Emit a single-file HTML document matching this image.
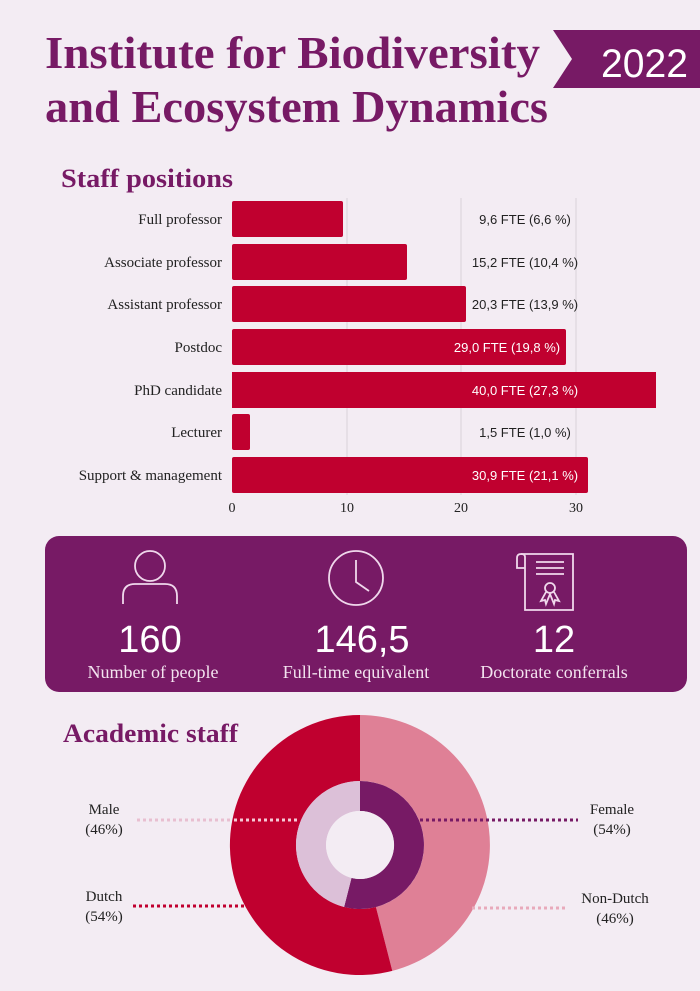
<!DOCTYPE html>
<html><head><meta charset="utf-8"><style>
html,body{margin:0;padding:0;background:#f3ecf3;}
svg{display:block;}
.serif{font-family:"Liberation Serif",serif;}
.sans{font-family:"Liberation Sans",sans-serif;}
</style></head><body>
<svg width="700" height="991" viewBox="0 0 700 991" xmlns="http://www.w3.org/2000/svg">
<rect width="700" height="991" fill="#f3ecf3"/>
<!-- header -->
<text x="45" y="68" class="serif" font-size="46" font-weight="bold" fill="#771a65" textLength="495" lengthAdjust="spacingAndGlyphs">Institute for Biodiversity</text>
<text x="45" y="122" class="serif" font-size="46" font-weight="bold" fill="#771a65" textLength="503" lengthAdjust="spacingAndGlyphs">and Ecosystem Dynamics</text>
<polygon points="553,30 700,30 700,88 553,88 572,59" fill="#771a65"/>
<text x="601" y="77" class="sans" font-size="40" fill="#fff" textLength="87" lengthAdjust="spacingAndGlyphs">2022</text>
<text x="61" y="187" class="serif" font-size="26" font-weight="bold" fill="#771a65" textLength="172" lengthAdjust="spacingAndGlyphs">Staff positions</text>

<!-- grid -->
<g stroke="#d9d2d9" stroke-width="1">
<line x1="347" y1="198" x2="347" y2="495"/>
<line x1="461" y1="198" x2="461" y2="495"/>
<line x1="576" y1="198" x2="576" y2="495"/>
</g>
<!-- bars -->
<g fill="#c0002f">
<rect x="232" y="201" width="111" height="36" rx="2"/>
<rect x="232" y="244" width="175" height="36" rx="2"/>
<rect x="232" y="286" width="234" height="36" rx="2"/>
<rect x="232" y="329" width="334" height="36" rx="2"/>
<rect x="232" y="372" width="424" height="36"/>
<rect x="232" y="414" width="18" height="36" rx="2"/>
<rect x="232" y="457" width="356" height="36" rx="2"/>
</g>
<g class="serif" font-size="15" fill="#222" text-anchor="end">
<text x="222" y="224">Full professor</text>
<text x="222" y="267">Associate professor</text>
<text x="222" y="309">Assistant professor</text>
<text x="222" y="352">Postdoc</text>
<text x="222" y="395">PhD candidate</text>
<text x="222" y="437">Lecturer</text>
<text x="222" y="480">Support &amp; management</text>
</g>
<g class="sans" font-size="13" text-anchor="middle">
<text x="525" y="224" fill="#222">9,6 FTE  (6,6 %)</text>
<text x="525" y="267" fill="#222">15,2 FTE  (10,4 %)</text>
<text x="525" y="309" fill="#222">20,3 FTE  (13,9 %)</text>
<text x="507" y="352" fill="#fff">29,0 FTE  (19,8 %)</text>
<text x="525" y="395" fill="#fff">40,0 FTE  (27,3 %)</text>
<text x="525" y="437" fill="#222">1,5 FTE  (1,0 %)</text>
<text x="525" y="480" fill="#fff">30,9 FTE  (21,1 %)</text>
</g>
<g class="serif" font-size="14" fill="#222" text-anchor="middle">
<text x="232" y="512">0</text><text x="347" y="512">10</text><text x="461" y="512">20</text><text x="576" y="512">30</text>
</g>

<!-- stats box -->
<rect x="45" y="536" width="642" height="156" rx="14" fill="#771a65"/>
<g stroke="#f0d8ec" stroke-width="1.8" fill="none">
<circle cx="150" cy="566" r="15"/>
<path d="M123,604 V596 Q123,584 135,584 H165 Q177,584 177,596 V604"/>
<circle cx="356" cy="578" r="27"/>
<path d="M356,560 V582 L369,591"/>
<path d="M525,572 V557 Q525,554 521,554 Q517,554 517,558 V568 H525"/>
<path d="M521,554 H573 V610 H525 V572"/>
<line x1="536" y1="562" x2="564" y2="562"/><line x1="536" y1="568" x2="564" y2="568"/><line x1="536" y1="574" x2="564" y2="574"/>
<circle cx="550" cy="588" r="5"/>
<path d="M546,592 L541,601 L545,600 L546,604 L550,594 L554,604 L555,600 L559,601 L554,592"/>
</g>
<g class="sans" fill="#fff" font-size="38" text-anchor="middle">
<text x="150" y="652">160</text><text x="362" y="652">146,5</text><text x="554" y="652">12</text>
</g>
<g class="serif" fill="#f3e3ef" font-size="18" text-anchor="middle">
<text x="153" y="678">Number of people</text><text x="356" y="678">Full-time equivalent</text><text x="554" y="678">Doctorate conferrals</text>
</g>

<!-- academic staff -->
<text x="63" y="742" class="serif" font-size="26" font-weight="bold" fill="#771a65" textLength="175" lengthAdjust="spacingAndGlyphs">Academic staff</text>
<!-- outer ring -->
<path d="M360,715 A130,130 0 0 1 392.3,970.9 L375.9,907 A64,64 0 0 0 360,781 Z" fill="#df8096"/>
<path d="M392.3,970.9 A130,130 0 1 1 360,715 L360,781 A64,64 0 1 0 375.9,907 Z" fill="#c0002f"/>
<!-- inner ring -->
<path d="M360,781 A64,64 0 1 1 344.1,907 L351.5,877.9 A34,34 0 1 0 360,811 Z" fill="#771a65"/>
<path d="M344.1,907 A64,64 0 0 1 360,781 L360,811 A34,34 0 0 0 351.5,877.9 Z" fill="#dcc0d8"/>
<circle cx="360" cy="845" r="34" fill="#f3ecf3"/>
<!-- dotted leaders -->
<g stroke-width="3" stroke-dasharray="3,3" fill="none">
<line x1="137" y1="820" x2="232" y2="820" stroke="#e8bfd0"/>
<line x1="234" y1="820" x2="297" y2="820" stroke="#f5c9d6"/>
<line x1="420" y1="820" x2="578" y2="820" stroke="#771a65"/>
<line x1="133" y1="906" x2="246" y2="906" stroke="#c0002f"/>
<line x1="472" y1="908" x2="567" y2="908" stroke="#e8aabb"/>
</g>
<g class="serif" font-size="15" fill="#222" text-anchor="middle">
<text x="104" y="814">Male</text><text x="104" y="834">(46%)</text>
<text x="612" y="814">Female</text><text x="612" y="834">(54%)</text>
<text x="104" y="901">Dutch</text><text x="104" y="921">(54%)</text>
<text x="615" y="903">Non-Dutch</text><text x="615" y="923">(46%)</text>
</g>
</svg>
</body></html>
